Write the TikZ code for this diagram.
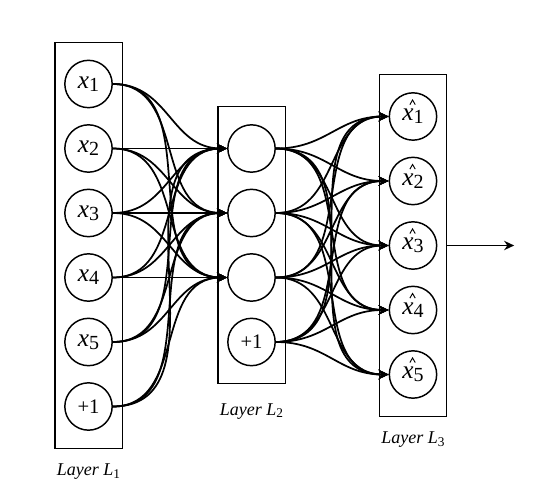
\documentclass[tikz,border=0pt]{standalone}
\usepackage{fontspec}
\setmainfont{Liberation Serif}
\usetikzlibrary{arrows.meta,positioning,fit}
\newcommand{\xin}[1]{\textit{x}\raisebox{-2.5pt}{\fontsize{15pt}{15pt}\selectfont #1}}
\newcommand{\xhat}[1]{\textit{x}\tikz[overlay,baseline=0pt]\draw[line width=0.7pt]
  (-2.8pt,12pt) -- (-0.8pt,15.5pt) -- (1.2pt,12pt);\raisebox{-2.5pt}{\fontsize{15pt}{15pt}\selectfont #1}}
\newcommand{\layer}[1]{\textit{Layer L}\raisebox{-2pt}{\fontsize{10pt}{10pt}\selectfont #1}}
\tikzset{
  unit/.style={circle, draw, line width=1.1pt, minimum size=35.5pt, inner sep=0pt,
               font=\fontsize{19pt}{21pt}\selectfont},
  bias/.style={unit, font=\fontsize{15.5pt}{17pt}\selectfont},
  layerbox/.style={draw, line width=1.1pt, inner xsep=7pt, inner ysep=13pt},
  edge/.style={-{Stealth[length=7.5pt,width=7pt]}, line width=1.3pt},
  lab/.style={font=\fontsize{13.5pt}{15pt}\selectfont, inner sep=1pt},
}
\begin{document}
\begin{tikzpicture}[x=0.75pt, y=-0.75pt]
        \useasboundingbox (0,0) rectangle (553,502);
        % input layer
        \node[unit] (i1) at (88.5,84) {\xin{1}};
        \node[unit] (i2) at (88.5,148.5) {\xin{2}};
        \node[unit] (i3) at (88.5,213) {\xin{3}};
        \node[unit] (i4) at (88.5,277.5) {\xin{4}};
        \node[unit] (i5) at (88.5,342) {\xin{5}};
        \node[bias] (i6) at (88.5,406.5) {+1};
        % hidden layer
        \node[unit] (h1) at (251.5,148.5) {};
        \node[unit] (h2) at (251.5,213) {};
        \node[unit] (h3) at (251.5,277.5) {};
        \node[bias] (h4) at (251.5,342) {+1};
        % output layer
        \node[unit] (o1) at (413,116.5) {\xhat{1}};
        \node[unit] (o2) at (413,181) {\xhat{2}};
        \node[unit] (o3) at (413,245.5) {\xhat{3}};
        \node[unit] (o4) at (413,310) {\xhat{4}};
        \node[unit] (o5) at (413,374.5) {\xhat{5}};
        \node[layerbox, fit=(i1)(i6)] (L1) {};
        \node[layerbox, fit=(h1)(h4)] (L2) {};
        \node[layerbox, fit=(o1)(o5)] (L3) {};
        \node[lab, below=10pt of L1] (t1) {\layer{1}};
        \node[lab, below=13pt of L2] (t2) {\layer{2}};
        \node[lab, below=10pt of L3] (t3) {\layer{3}};
        \foreach \a in {1,...,6} \foreach \b in {1,2,3}
          \draw[edge] (i\a.east) to[out=0, in=180, looseness=1.1] (h\b.west);
        \foreach \a in {1,...,4} \foreach \b in {1,...,5}
          \draw[edge] (h\a.east) to[out=0, in=180, looseness=1.1] (o\b.west);
        \coordinate[right=50pt of L3.east] (out);
        \draw[edge] (L3.east) -- (out);
      \end{tikzpicture}
\end{document}
